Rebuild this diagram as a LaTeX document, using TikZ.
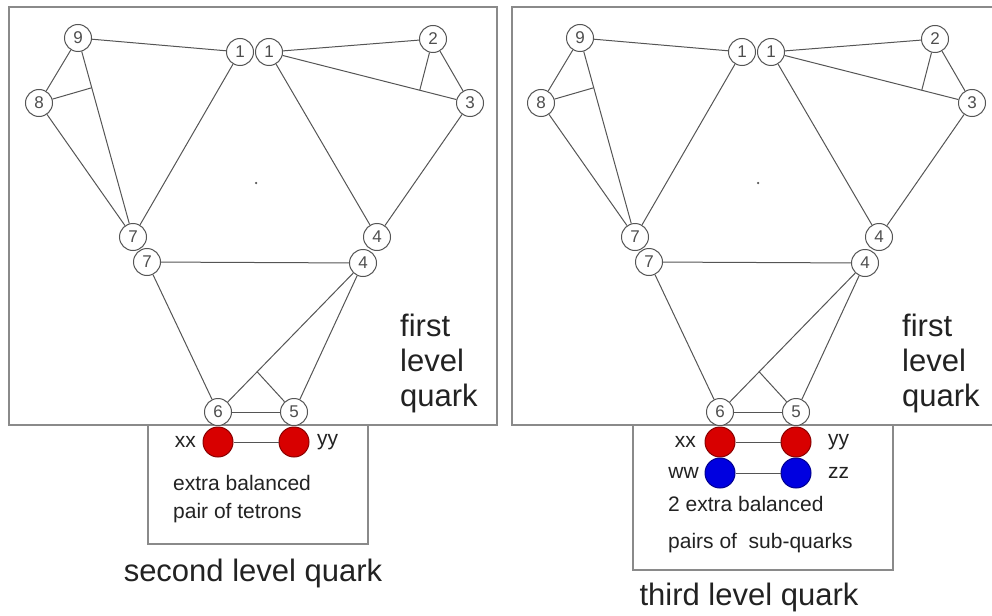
\documentclass[tikz,border=0pt]{standalone}
\usepackage{fontspec}
\setmainfont{Liberation Sans}
\usetikzlibrary{calc}
\definecolor{edgecol}{HTML}{555555}
\definecolor{framecol}{HTML}{8A8A8A}
\definecolor{txtcol}{HTML}{222222}
\definecolor{redfill}{HTML}{D80000}
\definecolor{redline}{HTML}{8A0000}
\definecolor{bluefill}{HTML}{0000E0}
\definecolor{blueline}{HTML}{000090}
\tikzset{
  qn/.style={circle,draw=edgecol,line width=1pt,fill=white,minimum size=27pt,inner sep=0pt,
    font=\fontsize{17}{17}\selectfont,text=txtcol!80},
  qe/.style={draw=edgecol,line width=1pt},
  frame/.style={draw=framecol,line width=1.6pt},
  redball/.style={circle,draw=redline,line width=1pt,fill=redfill,minimum size=30pt,inner sep=0pt},
  blueball/.style={circle,draw=blueline,line width=1pt,fill=bluefill,minimum size=30pt,inner sep=0pt},
  bigtxt/.style={font=\fontsize{31}{35}\selectfont,text=txtcol,inner sep=0pt},
  midtxt/.style={font=\fontsize{21}{28}\selectfont,text=txtcol,inner sep=0pt},
}
\newcommand\qgraph[2]{%
 \begin{scope}[xshift=#2]
  \node[qn] (#1n9)  at (78,38) {9};
  \node[qn] (#1n1a) at (240,52) {1};
  \node[qn] (#1n1b) at (269,52) {1};
  \node[qn] (#1n2)  at (433,39) {2};
  \node[qn] (#1n3)  at (470,103) {3};
  \node[qn] (#1n8)  at (39,103) {8};
  \node[qn] (#1n7a) at (133,237) {7};
  \node[qn] (#1n4a) at (377,237) {4};
  \node[qn] (#1n7b) at (147,262) {7};
  \node[qn] (#1n4b) at (363,263) {4};
  \node[qn] (#1n6)  at (218,412) {6};
  \node[qn] (#1n5)  at (294,412) {5};
  \node[circle,fill=edgecol,inner sep=0pt,minimum size=2.5pt] (#1dot) at (256,183) {};
  \coordinate (#1ja) at ($(#1n9)!0.25!(#1n7a)$);
  \coordinate (#1jb) at ($(#1n1b)!0.75!(#1n3)$);
  \coordinate (#1jc) at ($(#1n4b)!0.73!(#1n6)$);
  \draw[qe] (#1n9) -- (#1n1a);
  \draw[qe] (#1n1b) -- (#1n2);
  \draw[qe] (#1n1b) -- (#1n3);
  \draw[qe] (#1n2) -- (#1n3);
  \draw[qe] (#1n2) -- (#1jb);
  \draw[qe] (#1n9) -- (#1n8);
  \draw[qe] (#1n9) -- (#1n7a);
  \draw[qe] (#1n8) -- (#1ja);
  \draw[qe] (#1n8) -- (#1n7a);
  \draw[qe] (#1n1a) -- (#1n7a);
  \draw[qe] (#1n1b) -- (#1n4a);
  \draw[qe] (#1n3) -- (#1n4a);
  \draw[qe] (#1n7b) -- (#1n4b);
  \draw[qe] (#1n7b) -- (#1n6);
  \draw[qe] (#1n4b) -- (#1n6);
  \draw[qe] (#1n4b) -- (#1n5);
  \draw[qe] (#1n5) -- (#1jc);
  \draw[qe] (#1n6) -- (#1n5);
  \node[bigtxt,align=left,anchor=base west] (#1first) at (400,406) {first\\level\\quark};
 \end{scope}}
\begin{document}
\begin{tikzpicture}[x=1pt,y=-1pt]
\useasboundingbox (0,0) rectangle (992,615);
% frames
\draw[frame] (9,7) rectangle (497,425);
\draw[frame] (992,7) -- (512,7) -- (512,425) -- (992,425);
\draw[frame] (148,425) rectangle (368,544);
\draw[frame] (633,425) rectangle (893,570);
% graphs
\qgraph{L}{0}
\qgraph{R}{502}
% left lower box
\node[redball] (Lxx) at (218,442) {};
\node[redball] (Lyy) at (294,442) {};
\draw[qe] (Lxx) -- (Lyy);
\node[midtxt,anchor=east] (Lxxl) at (196,442) {xx};
\node[midtxt,anchor=west] (Lyyl) at (317,442) {yy};
\node[midtxt,align=left,anchor=base west] (Lextra) at (173,518) {extra balanced\\pair of tetrons};
\node[bigtxt,anchor=base] (Lcap) at (253,581) {second level quark};
% right lower box
\node[redball] (Rxx) at (720,442) {};
\node[redball] (Ryy) at (796,442) {};
\node[blueball] (Rww) at (720,473) {};
\node[blueball] (Rzz) at (796,473) {};
\draw[qe] (Rxx) -- (Ryy);
\draw[qe] (Rww) -- (Rzz);
\node[midtxt,anchor=east] (Rxxl) at (696,442) {xx};
\node[midtxt,anchor=west] (Ryyl) at (828,442) {yy};
\node[midtxt,anchor=east] (Rwwl) at (699,473) {ww};
\node[midtxt,anchor=west] (Rzzl) at (828,473) {zz};
\node[midtxt,align=left,anchor=base west,font=\fontsize{21}{37}\selectfont] (Rextra) at (668,548) {2 extra balanced\\pairs of\ \ sub-quarks};
\node[bigtxt,anchor=base] (Rcap) at (749,605) {third level quark};
\end{tikzpicture}
\end{document}
